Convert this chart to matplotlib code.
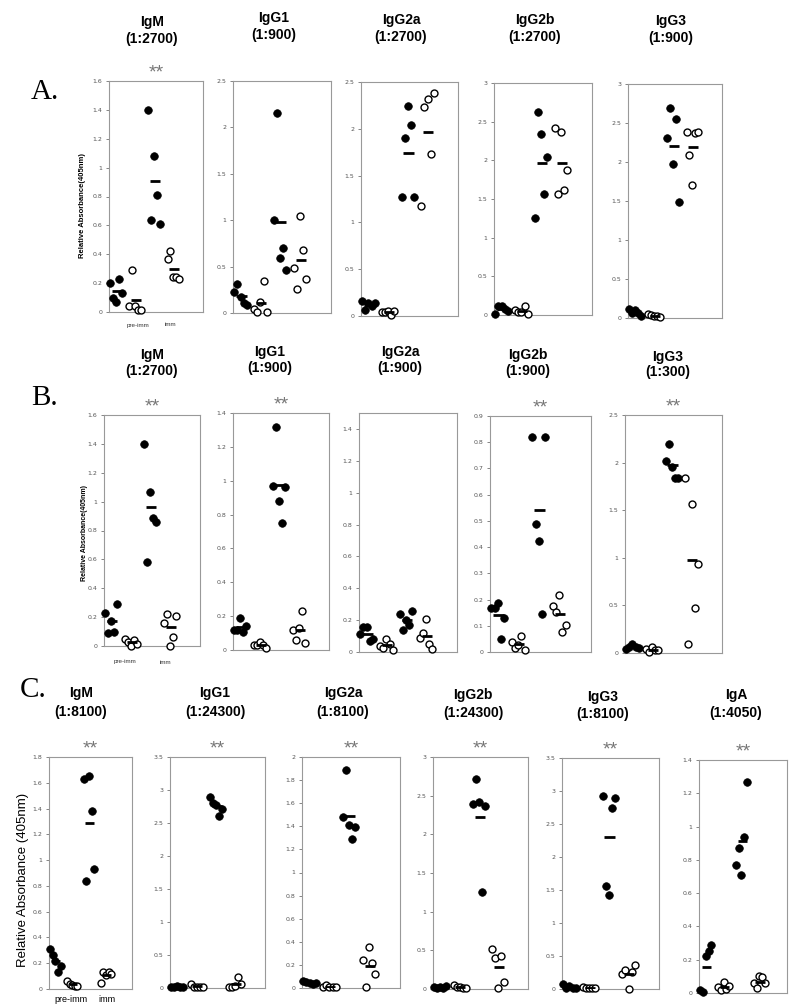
import matplotlib
matplotlib.use("Agg")
import numpy as np
import matplotlib.pyplot as plt

# each panel: [pre-imm filled, pre-imm open, imm filled, imm open]
A_IGM = [[0.20, 0.10, 0.07, 0.23, 0.13],
         [0.04, 0.29, 0.04, 0.015, 0.015],
         [1.40, 0.64, 1.08, 0.81, 0.61],
         [0.37, 0.42, 0.24, 0.24, 0.23]]
A_IGG1 = [[0.23, 0.31, 0.17, 0.11, 0.09],
          [0.04, 0.01, 0.12, 0.35, 0.01],
          [1.00, 2.16, 0.59, 0.70, 0.46],
          [0.48, 0.26, 1.04, 0.68, 0.37]]
A_IGG2A = [[0.16, 0.06, 0.14, 0.11, 0.14],
           [0.04, 0.04, 0.05, 0.01, 0.05],
           [1.27, 1.90, 2.24, 2.04, 1.27],
           [1.17, 2.23, 2.32, 1.73, 2.38]]
A_IGG2B = [[0.01, 0.12, 0.11, 0.08, 0.05],
           [0.06, 0.04, 0.045, 0.12, 0.01],
           [1.25, 2.62, 2.34, 1.56, 2.04],
           [2.42, 1.56, 2.36, 1.62, 1.87]]
A_IGG3 = [[0.11, 0.06, 0.10, 0.06, 0.02],
          [0.045, 0.04, 0.03, 0.03, 0.01],
          [2.31, 2.69, 1.97, 2.55, 1.49],
          [2.39, 2.09, 1.70, 2.37, 2.39]]

B_IGM = [[0.23, 0.09, 0.17, 0.10, 0.29],
         [0.05, 0.03, 0.00, 0.04, 0.015],
         [1.40, 0.58, 1.07, 0.89, 0.86],
         [0.16, 0.22, 0.00, 0.06, 0.21]]
B_IGG1 = [[0.12, 0.12, 0.19, 0.105, 0.14],
          [0.03, 0.03, 0.045, 0.03, 0.01],
          [0.97, 1.32, 0.88, 0.75, 0.96],
          [0.12, 0.06, 0.13, 0.23, 0.04]]
B_IGG2A = [[0.11, 0.16, 0.16, 0.07, 0.08],
           [0.04, 0.025, 0.08, 0.05, 0.01],
           [0.24, 0.14, 0.20, 0.17, 0.26],
           [0.09, 0.12, 0.21, 0.05, 0.02]]
B_IGG2B = [[0.167, 0.167, 0.186, 0.049, 0.128],
           [0.037, 0.015, 0.028, 0.06, 0.009],
           [0.82, 0.49, 0.425, 0.144, 0.82],
           [0.174, 0.153, 0.218, 0.075, 0.104]]
B_IGG3 = [[0.04, 0.06, 0.09, 0.06, 0.05],
          [0.04, 0.01, 0.06, 0.03, 0.03],
          [2.02, 2.20, 1.95, 1.84, 1.84],
          [1.84, 0.09, 1.57, 0.47, 0.94]]

C_IGM = [[0.31, 0.26, 0.22, 0.13, 0.18],
         [0.065, 0.04, 0.03, 0.026, 0.026],
         [1.63, 0.84, 1.65, 1.38, 0.93],
         [0.05, 0.13, 0.11, 0.13, 0.12]]
C_IGG1 = [[0.015, 0.02, 0.03, 0.02, 0.015],
          [0.055, 0.015, 0.015, 0.015, 0.015],
          [2.89, 2.80, 2.78, 2.61, 2.71],
          [0.015, 0.015, 0.025, 0.167, 0.066]]
C_IGG2A = [[0.058, 0.049, 0.043, 0.032, 0.043],
           [0.009, 0.029, 0.012, 0.008, 0.006],
           [1.48, 1.89, 1.41, 1.29, 1.39],
           [0.245, 0.006, 0.354, 0.216, 0.124]]
C_IGG2B = [[0.025, 0.015, 0.03, 0.015, 0.045],
           [0.05, 0.02, 0.025, 0.015, 0.015],
           [2.39, 2.71, 2.42, 1.25, 2.36],
           [0.52, 0.40, 0.01, 0.43, 0.09]]
C_IGG3 = [[0.076, 0.01, 0.045, 0.02, 0.02],
          [0.035, 0.01, 0.01, 0.01, 0.01],
          [2.92, 1.56, 1.42, 2.74, 2.90],
          [0.22, 0.29, 0.00, 0.26, 0.37]]
C_IGA = [[0.02, 0.006, 0.22, 0.25, 0.29],
         [0.034, 0.02, 0.064, 0.024, 0.04],
         [0.77, 0.87, 0.71, 0.94, 1.27],
         [0.06, 0.03, 0.10, 0.094, 0.06]]

W, H = 800, 1007
fig = plt.figure(figsize=(W / 100, H / 100), dpi=100)
fig.patch.set_facecolor("white")

NARROW = ["Liberation Sans Narrow", "Liberation Sans", "DejaVu Sans"]
SANS = ["Liberation Sans", "DejaVu Sans"]
SERIF = ["Liberation Serif", "DejaVu Serif"]


def ftxt(x, y, s, **kw):
    fig.text(x / W, 1 - y / H, s, **kw)


def panel(box, data, ymax, ystep, ytop=None, stars=False):
    x0, y0, x1, y1 = box
    ax = fig.add_axes([x0 / W, 1 - y1 / H, (x1 - x0) / W, (y1 - y0) / H])
    offs = np.linspace(-0.31, 0.31, 5)
    for g, vals in enumerate(data):
        xs = g + 1 + offs[:len(vals)]
        if g % 2 == 0:
            ax.scatter(xs, vals, s=30, c="black", edgecolors="black",
                       linewidths=0.5, zorder=3, clip_on=False)
        else:
            ax.scatter(xs, vals, s=25, c="white", edgecolors="black",
                       linewidths=1.0, zorder=3, clip_on=False)
        m = np.mean(vals)
        ax.plot([g + 1 - 0.22, g + 1 + 0.3], [m, m], color="black",
                lw=2.0, solid_capstyle="butt", zorder=4)
    ax.set_xlim(0.62, 5.55)
    ax.set_ylim(0, ytop if ytop else ymax)
    ticks = np.arange(0, ymax + ystep / 2, ystep)
    ax.set_yticks(ticks)
    ax.set_yticklabels([f"{t:g}" for t in ticks])
    ax.set_xticks([])
    ax.tick_params(axis="y", length=2, width=0.5, pad=3, labelsize=4.5,
                   colors="#555555")
    for sp in ax.spines.values():
        sp.set_color("#999999")
        sp.set_linewidth(0.8)
    if stars:
        ax.text(0.5, 1.0, "**", transform=ax.transAxes, ha="center",
                va="bottom", fontsize=14, color="#777777", family=SANS)
    return ax


def title(x, y, name, dil, dy=17):
    ftxt(x, y, name, ha="center", va="center", fontsize=10,
         fontweight="bold", family=NARROW)
    ftxt(x, y + dy, dil, ha="center", va="center", fontsize=10,
         fontweight="bold", family=NARROW)


# row A
panel((109, 81, 203, 312), A_IGM, 1.6, 0.2, stars=True)
panel((233, 81, 331, 313), A_IGG1, 2.5, 0.5)
panel((361, 82, 458, 316), A_IGG2A, 2.5, 0.5)
panel((494, 83, 592, 315), A_IGG2B, 3.0, 0.5)
panel((628, 84, 722, 318), A_IGG3, 3.0, 0.5)
title(152, 22, "IgM", "(1:2700)")
title(274, 18, "IgG1", "(1:900)")
title(401, 20, "IgG2a", "(1:2700)")
title(535, 20, "IgG2b", "(1:2700)")
title(671, 21, "IgG3", "(1:900)")
ftxt(45, 92, "A.", ha="center", va="center", fontsize=21, family=SERIF)
ftxt(83, 205, "Relative Absorbance(405nm)", ha="center", va="center",
     rotation=90, fontsize=5.5, fontweight="bold", family=NARROW)
ftxt(138, 325, "pre-imm", ha="center", va="center", fontsize=4.5,
     color="#333333", family=SANS)
ftxt(170, 325, "imm", ha="center", va="center", fontsize=4.5,
     color="#333333", family=SANS)

# row B
panel((104, 415, 200, 646), B_IGM, 1.6, 0.2, stars=True)
panel((233, 413, 329, 650), B_IGG1, 1.4, 0.2, stars=True)
panel((359, 413, 457, 652), B_IGG2A, 1.4, 0.2, ytop=1.5)
panel((490, 416, 591, 652), B_IGG2B, 0.9, 0.1, stars=True)
panel((625, 415, 722, 653), B_IGG3, 2.5, 0.5, stars=True)
title(152, 355, "IgM", "(1:2700)", dy=16)
title(270, 352, "IgG1", "(1:900)", dy=16)
title(400, 352, "IgG2a", "(1:900)", dy=16)
title(528, 355, "IgG2b", "(1:900)", dy=16)
title(668, 357, "IgG3", "(1:300)", dy=15)
ftxt(45, 398, "B.", ha="center", va="center", fontsize=21, family=SERIF)
ftxt(85, 533, "Relative Absorbance(405nm)", ha="center", va="center",
     rotation=90, fontsize=5.0, fontweight="bold", family=NARROW)
ftxt(125, 662, "pre-imm", ha="center", va="center", fontsize=4.5,
     color="#333333", family=SANS)
ftxt(165, 662, "imm", ha="center", va="center", fontsize=4.5,
     color="#333333", family=SANS)

# row C
panel((49, 757, 132, 989), C_IGM, 1.8, 0.2, stars=True)
panel((170, 757, 265, 988), C_IGG1, 3.5, 0.5, stars=True)
panel((302, 757, 400, 988), C_IGG2A, 2.0, 0.2, stars=True)
panel((433, 757, 528, 989), C_IGG2B, 3.0, 0.5, stars=True)
panel((562, 758, 659, 989), C_IGG3, 3.5, 0.5, stars=True)
panel((699, 760, 787, 993), C_IGA, 1.4, 0.2, stars=True)
title(81, 693, "IgM", "(1:8100)", dy=19)
title(215, 693, "IgG1", "(1:24300)", dy=19)
title(343, 693, "IgG2a", "(1:8100)", dy=19)
title(473, 695, "IgG2b", "(1:24300)", dy=18)
title(603, 697, "IgG3", "(1:8100)", dy=17)
title(736, 695, "IgA", "(1:4050)", dy=18)
ftxt(33, 690, "C.", ha="center", va="center", fontsize=21, family=SERIF)
ftxt(23, 880, "Relative Absorbance (405nm)", ha="center", va="center",
     rotation=90, fontsize=9.5, family=SANS)
ftxt(71, 999, "pre-imm", ha="center", va="center", fontsize=6.5,
     family=SANS)
ftxt(107, 999, "imm", ha="center", va="center", fontsize=6.5, family=SANS)

fig.savefig("out.png", dpi=100)
